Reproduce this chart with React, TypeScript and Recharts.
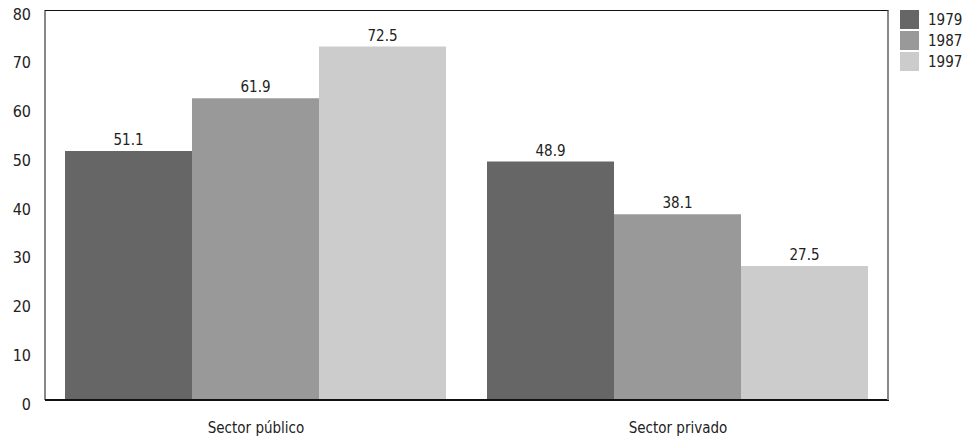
import { BarChart, Bar, XAxis, YAxis, LabelList } from 'recharts';

const categories = ['Sector público', 'Sector privado'];
const years = ['1979', '1987', '1997'];
const values1979 = [51.1, 48.9];
const values1987 = [61.9, 38.1];
const values1997 = [72.5, 27.5];
const yTicks = [0, 10, 20, 30, 40, 50, 60, 70, 80];

const COLORS: Record<string, string> = {
  '1979': '#666666',
  '1987': '#999999',
  '1997': '#cccccc',
};

const FONT = '"Liberation Sans Narrow", "DejaVu Sans Condensed", Arial, sans-serif';

const data = categories.map((name, i) => ({
  name,
  '1979': values1979[i],
  '1987': values1987[i],
  '1997': values1997[i],
}));

// plot frame, matches chart margins below
const PLOT = { left: 45, top: 10, right: 889, bottom: 400 };

function LegendBox() {
  return (
    <div style={{ position: 'absolute', left: 900, top: 9, fontFamily: FONT, fontSize: 15, color: '#222' }}>
      {years.map((y) => (
        <div key={y} style={{ display: 'flex', alignItems: 'center', height: 21 }}>
          <span style={{ display: 'inline-block', width: 19, height: 19, background: COLORS[y], marginRight: 9 }} />
          <span>{y}</span>
        </div>
      ))}
    </div>
  );
}

export default function App() {
  return (
    <div style={{ position: 'absolute', left: 0, top: 0, width: 968, height: 442, background: '#fff' }}>
      <BarChart
        width={968}
        height={442}
        data={data}
        margin={{ top: PLOT.top, right: 968 - PLOT.right, bottom: 0, left: 0 }}
        barCategoryGap={20}
        barGap={0}
      >
        <XAxis
          dataKey="name"
          height={442 - PLOT.bottom}
          axisLine={{ stroke: '#111', strokeWidth: 2 }}
          tickLine={false}
          tickSize={0}
          tickMargin={22}
          tick={{ fontFamily: FONT, fontSize: 15, fill: '#222' }}
        />
        <YAxis
          width={PLOT.left}
          domain={[0, 80]}
          ticks={yTicks}
          interval={0}
          axisLine={{ stroke: '#111' }}
          tickLine={false}
          tickSize={0}
          tickMargin={14}
          tick={{ fontFamily: FONT, fontSize: 16, fill: '#222', dy: 4 }}
        />
        {years.map((y) => (
          <Bar key={y} dataKey={y} fill={COLORS[y]} isAnimationActive={false}>
            <LabelList dataKey={y} position="top" offset={6} style={{ fontFamily: FONT, fontSize: 15, fill: '#222' }} />
          </Bar>
        ))}
      </BarChart>
      <div
        style={{
          position: 'absolute',
          left: PLOT.left,
          top: PLOT.top,
          width: PLOT.right - PLOT.left,
          height: PLOT.bottom - PLOT.top,
          borderTop: '1px solid #111',
          borderRight: '2px solid #888',
          boxSizing: 'border-box',
          pointerEvents: 'none',
        }}
      />
      <LegendBox />
    </div>
  );
}
